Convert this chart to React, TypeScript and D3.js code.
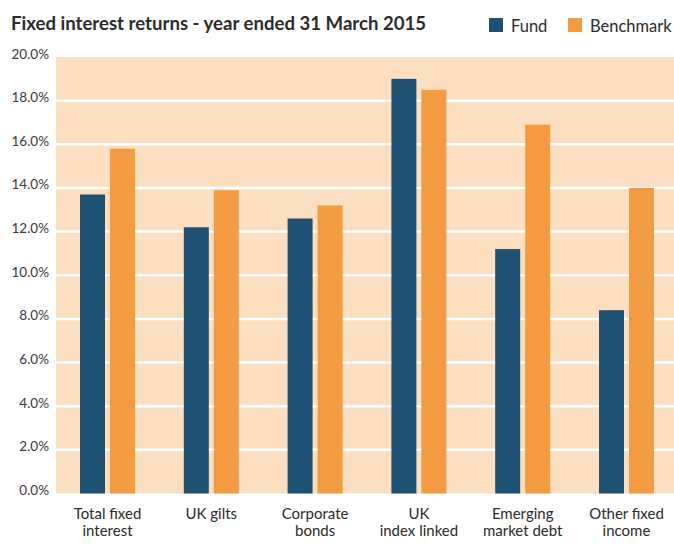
import * as d3 from "d3";

const categories = [
  ["Total fixed", "interest"],
  ["UK gilts"],
  ["Corporate", "bonds"],
  ["UK", "index linked"],
  ["Emerging", "market debt"],
  ["Other fixed", "income"],
];
const seriesNames = ["Fund", "Benchmark"];
const fundValues = [13.7, 12.2, 12.6, 19.0, 11.2, 8.4];
const benchmarkValues = [15.8, 13.9, 13.2, 18.5, 16.9, 14.0];
const yTicks = [0, 2, 4, 6, 8, 10, 12, 14, 16, 18, 20];

const W = 674;
const H = 547;
const colors = { Fund: "#1e5171", Benchmark: "#f39b43" };
const bg = "#fcdec0";
const font = "Lato, 'Open Sans', sans-serif";

export default function App() {
  const keys = categories.map((c) => c.join(" "));
  const x = d3.scaleBand<string>().domain(keys).range([55.6, 678.4]).padding(0);
  const inner = d3
    .scaleBand<string>()
    .domain(seriesNames)
    .range([-27.5, 27.5])
    .paddingInner(1 / 6)
    .paddingOuter(0);
  const y = d3.scaleLinear().domain([0, 20]).range([493.5, 57]);

  const rows = keys.map((k, i) => ({ key: k, Fund: fundValues[i], Benchmark: benchmarkValues[i] }));

  return (
    <svg
      width={W}
      height={H}
      style={{ position: "absolute", left: 0, top: 0, background: "#fff" }}
      fontFamily={font}
    >
      <text x={11} y={30} fontSize={18.6} fontWeight={700} fill="#2b2b2b">
        Fixed interest returns - year ended 31 March 2015
      </text>
      {seriesNames.map((s, i) => {
        const lx = i === 0 ? 489 : 568;
        return (
          <g key={s}>
            <rect x={lx} y={18} width={14} height={14} fill={colors[s as keyof typeof colors]} />
            <text x={lx + 22} y={32} fontSize={16.5} fill="#2b2b2b">
              {s}
            </text>
          </g>
        );
      })}
      <rect x={56} y={y(20)} width={W - 56} height={y(0) - y(20)} fill={bg} />
      {yTicks
        .filter((t) => t > 0 && t < 20)
        .map((t) => (
          <line key={t} x1={56} x2={W} y1={y(t)} y2={y(t)} stroke="#fff" strokeWidth={2.5} />
        ))}
      {yTicks.map((t) => (
        <text key={t} x={49} y={y(t) + 1.5} textAnchor="end" fontSize={13.5} fill="#3a3a3a">
          {d3.format(".1f")(t)}%
        </text>
      ))}
      {rows.map((r) => {
        const cx = (x(r.key) ?? 0) + x.bandwidth() / 2;
        return (
          <g key={r.key} transform={`translate(${cx},0)`}>
            {seriesNames.map((s) => {
              const v = r[s as "Fund" | "Benchmark"];
              return (
                <rect
                  key={s}
                  x={inner(s)}
                  y={y(v)}
                  width={inner.bandwidth()}
                  height={y(0) - y(v)}
                  fill={colors[s as keyof typeof colors]}
                />
              );
            })}
          </g>
        );
      })}
      {categories.map((lines, i) => {
        const cx = (x(keys[i]) ?? 0) + x.bandwidth() / 2;
        return (
          <text key={keys[i]} x={cx} textAnchor="middle" fontSize={15} fill="#2b2b2b">
            {lines.map((l, j) => (
              <tspan key={j} x={cx} y={519 + j * 17}>
                {l}
              </tspan>
            ))}
          </text>
        );
      })}
    </svg>
  );
}
